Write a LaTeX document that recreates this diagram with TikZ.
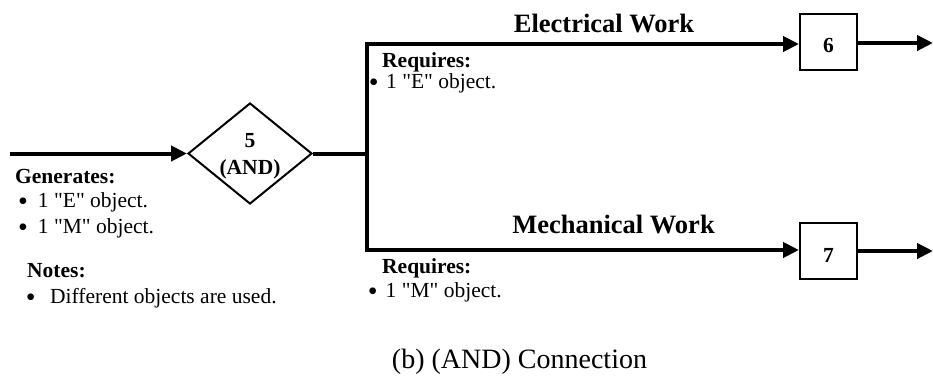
\documentclass[tikz,border=0pt]{standalone}
\usepackage{fontspec}
\setmainfont{Liberation Serif}[Ligatures=TeXOff]
\usetikzlibrary{shapes.geometric,arrows.meta}

% list bullet, a little larger than the font's own
\newcommand{\listdot}{\raisebox{-3.5pt}{\scalebox{1.3}{\textbullet}}}

\begin{document}
\begin{tikzpicture}[x=1pt,y=-1pt,
  link/.style={line width=4pt},
  flow/.style={link, -{Triangle[length=16pt,width=15pt]}},
  stepbox/.style={draw, line width=2pt, minimum width=57pt, minimum height=56pt,
    inner sep=0pt, font=\fontsize{21.5}{26}\selectfont\bfseries},
  gate/.style={draw, shape=diamond, line width=2pt, minimum width=124pt,
    minimum height=101pt, inner sep=0pt},
  gatelabel/.style={inner sep=0pt, align=center,
    font=\fontsize{21.5}{27}\selectfont\bfseries},
  txt/.style={anchor=base west, inner sep=0pt, font=\fontsize{21.5}{26}\selectfont},
  head/.style={txt, font=\fontsize{21.5}{26}\selectfont\bfseries},
  branchtitle/.style={anchor=base, inner sep=0pt, font=\fontsize{26.5}{32}\selectfont\bfseries},
  caption/.style={anchor=base, inner sep=0pt, font=\fontsize{28}{34}\selectfont},
]
\useasboundingbox (0,0) rectangle (933,376);

% gate and work steps
\node[gate] (and) at (250,153.5) {};
\node[gatelabel] (andtxt) at (250,156.5) {5\\(AND)};
\node[stepbox] (s6) at (828.5,41.5) {\raisebox{-4pt}[\height][\depth]{6}};
\node[stepbox] (s7) at (828.5,251) {\raisebox{-4pt}[\height][\depth]{7}};

% connector end points
\coordinate (src) at (10,153.5);
\coordinate (split) at (367,153.5);
\coordinate (up) at (367,44);
\coordinate (down) at (367,250);
\coordinate (out) at (933,43);

% connectors
\draw[flow] (src) -- (and.west);
\draw[link] (and.east) -- (split);
\draw[flow] (split) -- (up) -- (up -| s6.west);
\draw[flow] (split) -- (down) -- (down -| s7.west);
\draw[flow] (s6.east |- out) -- (out);
\draw[flow] (s7.east) -- (s7.east -| out);

% branch titles
\node[branchtitle] (tE) at (604,32) {Electrical Work};
\node[branchtitle] (tM) at (613.5,233) {Mechanical Work};

% notes on the source
\node[head] (gen) at (15,183) {Generates:};
\node[txt] (gen1) at (18,207) {\listdot\hspace{10pt}1 "E" object.};
\node[txt] (gen2) at (18,233) {\listdot\hspace{10pt}1 "M" object.};
\node[head] (nt) at (27,277) {Notes:};
\node[txt] (nt1) at (25.6,303) {\listdot\hspace{14.6pt}Different objects are used.};

% requirements of each branch
\node[head] (rqE) at (382,67) {Requires:};
\node[txt] (rqE1) at (368.6,88) {\listdot\hspace{7.6pt}1 "E" object.};
\node[head] (rqM) at (382,273) {Requires:};
\node[txt] (rqM1) at (367.6,297) {\listdot\hspace{8.1pt}1 "M" object.};

% caption
\node[caption] (cap) at (519.5,368) {(b) (AND) Connection};
\end{tikzpicture}
\end{document}
